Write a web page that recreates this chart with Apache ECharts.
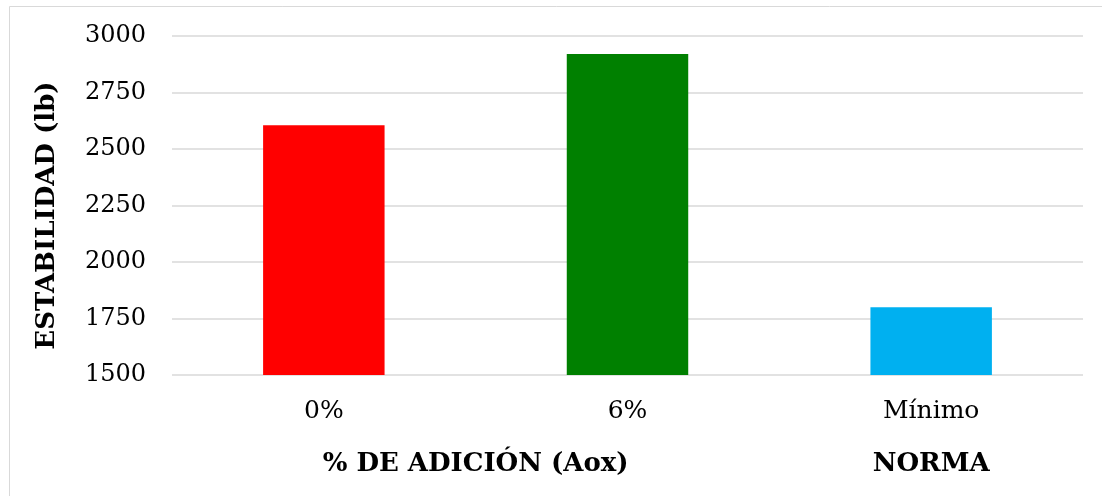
<!DOCTYPE html>
<html>
<head>
<meta charset="utf-8">
<script src="https://cdn.jsdelivr.net/npm/echarts@6/dist/echarts.min.js"></script>
<style>
  html, body { margin: 0; padding: 0; background: #fff; }
  #chart { width: 1102px; height: 496px; }
</style>
</head>
<body>
<div id="chart"></div>
<script>
// Stability (lb) per additive dosage, plus the minimum required by the standard
const categories = ['0%', '6%', 'Mínimo'];
const stability = [2605, 2920, 1800];
const barColors = ['#ff0000', '#008000', '#00b0f0'];
const yTicks = { min: 1500, max: 3000, step: 250 };

// Group captions shown under the category labels: [text, first index, last index]
const groups = [
  ['% DE ADICIÓN (Aox)', 0, 1],
  ['NORMA', 2, 2]
];

const FONT = '"DejaVu Serif", "Liberation Serif", serif';

const chart = echarts.init(document.getElementById('chart'), null, { renderer: 'canvas' });

chart.setOption({
  animation: false,
  backgroundColor: '#ffffff',
  textStyle: { fontFamily: FONT, color: '#000' },
  grid: { left: 172, right: 19, top: 36, bottom: 121, containLabel: false },
  xAxis: {
    type: 'category',
    data: categories,
    axisLine: { show: false },
    axisTick: { show: false },
    axisLabel: { color: '#000', fontFamily: FONT, fontSize: 25, margin: 24 }
  },
  yAxis: {
    type: 'value',
    min: yTicks.min,
    max: yTicks.max,
    interval: yTicks.step,
    name: 'ESTABILIDAD (lb)',
    nameLocation: 'middle',
    nameGap: 112,
    nameRotate: 90,
    nameTextStyle: {
      color: '#000', fontFamily: FONT, fontSize: 26, fontWeight: 'bold',
      padding: [0, 20, 0, 0]
    },
    axisLine: { show: false },
    axisTick: { show: false },
    axisLabel: {
      color: '#000', fontFamily: FONT, fontSize: 24, margin: 26,
      formatter: v => String(v)
    },
    splitLine: { lineStyle: { color: '#d9d9d9', width: 1.5 } }
  },
  series: [{
    type: 'bar',
    barWidth: '40%',
    data: stability.map((v, i) => ({ value: v, itemStyle: { color: barColors[i] } }))
  }]
});

// Place group captions centred under their categories using the axis scale
function drawGroups() {
  const y = chart.convertToPixel({ yAxisIndex: 0 }, yTicks.min) + 89;
  const texts = groups.map(([label, a, b]) => {
    const xa = chart.convertToPixel({ xAxisIndex: 0 }, categories[a]);
    const xb = chart.convertToPixel({ xAxisIndex: 0 }, categories[b]);
    return {
      type: 'text',
      x: (xa + xb) / 2,
      y: y,
      style: {
        text: label,
        fontFamily: FONT,
        fontSize: 26,
        fontWeight: 'bold',
        fill: '#000',
        textAlign: 'center',
        textVerticalAlign: 'middle'
      }
    };
  });
  chart.setOption({
    graphic: [
      {
        type: 'rect',
        shape: { x: 9.5, y: 6.5, width: 1200, height: 600 },
        style: { fill: 'none', stroke: '#d9d9d9', lineWidth: 1 },
        silent: true
      },
      ...texts
    ]
  });
}
drawGroups();
</script>
</body>
</html>
